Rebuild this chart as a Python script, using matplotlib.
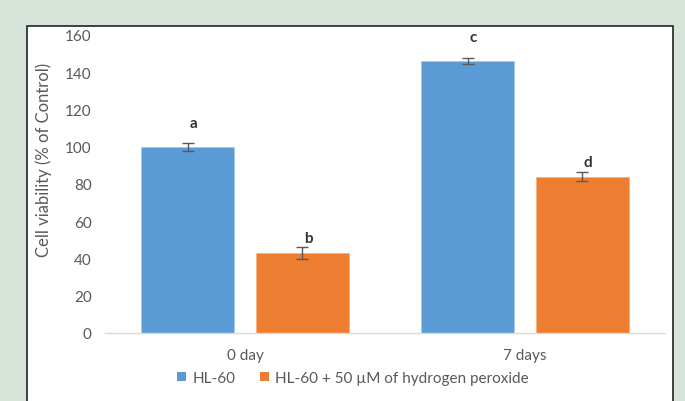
import matplotlib
matplotlib.use("Agg")
import matplotlib.pyplot as plt
from matplotlib.patches import Rectangle, Patch
import numpy as np

plt.rcParams['font.family'] = ['Lato', 'DejaVu Sans']

categories = ["0 day", "7 days"]
series_names = ["HL-60", "HL-60 + 50 µM of hydrogen peroxide"]
hl60 = [100, 146]
hl60_err = [2.2, 1.4]
h2o2 = [43, 84]
h2o2_err = [3.0, 2.4]
letters_hl60 = ["a", "c"]
letters_h2o2 = ["b", "d"]
yticks = [0, 20, 40, 60, 80, 100, 120, 140, 160]

blue = "#5B9BD5"
orange = "#ED7D31"
gray_text = "#595959"
bg = "#d6e4da"

fig = plt.figure(figsize=(6.85, 4.02), dpi=100, facecolor=bg)

W, H = 685, 402
panel = Rectangle((27 / W, -0.05), (673 - 27) / W, (402 - 27) / H + 0.05,
                  transform=fig.transFigure, facecolor="white",
                  edgecolor="#222222", linewidth=1.2, zorder=-10)
fig.patches.append(panel)

ax = fig.add_axes([105 / W, (H - 334) / H, 560 / W, (334 - 36) / H])
ax.set_facecolor("none")
ax.set_zorder(5)

x = np.arange(len(categories))
bw = 0.33
off = 0.205
ax.bar(x - off, hl60, bw, color=blue, edgecolor="#a9c9ea", linewidth=0.6,
       yerr=hl60_err, error_kw=dict(ecolor=gray_text, elinewidth=1.0, capsize=4, capthick=1.0),
       label=series_names[0], zorder=2)
ax.bar(x + off, h2o2, bw, color=orange, edgecolor="#f4b183", linewidth=0.6,
       yerr=h2o2_err, error_kw=dict(ecolor=gray_text, elinewidth=1.0, capsize=4, capthick=1.0),
       label=series_names[1], zorder=2)

for i in range(len(categories)):
    ax.text(x[i] - off + 0.02, hl60[i] + 13, letters_hl60[i], ha="center", va="center",
            fontsize=11, color="#333333", fontweight="bold", clip_on=False)
    ax.text(x[i] + off + 0.02, h2o2[i] + 8, letters_h2o2[i], ha="center", va="center",
            fontsize=11, color="#333333", fontweight="bold", clip_on=False)

ax.set_xlim(-0.5, 1.5)
ax.set_ylim(0, 160)
ax.set_yticks(yticks)
ax.set_xticks(x)
ax.set_xticklabels(categories)
for s in ["top", "right", "left"]:
    ax.spines[s].set_visible(False)
ax.spines["bottom"].set_color("#d9d9d9")
ax.spines["bottom"].set_linewidth(1.0)
ax.tick_params(axis="both", length=0, labelsize=11, labelcolor=gray_text)
ax.tick_params(axis="y", pad=9.5)
ax.tick_params(axis="x", pad=11)

fig.text(44 / W, (H - 160) / H, "Cell viability (% of Control)", rotation=90,
         ha="center", va="center", fontsize=12, color=gray_text)

handles = [Patch(facecolor=blue, edgecolor="none"), Patch(facecolor=orange, edgecolor="none")]
fig.legend(handles, series_names, loc="center", bbox_to_anchor=(353 / W, (H - 379) / H),
           ncol=2, frameon=False, fontsize=11, labelcolor=gray_text,
           handlelength=0.6, handleheight=0.6, handletextpad=0.4, columnspacing=1.6)

fig.savefig("out.png", dpi=100, facecolor=bg)
